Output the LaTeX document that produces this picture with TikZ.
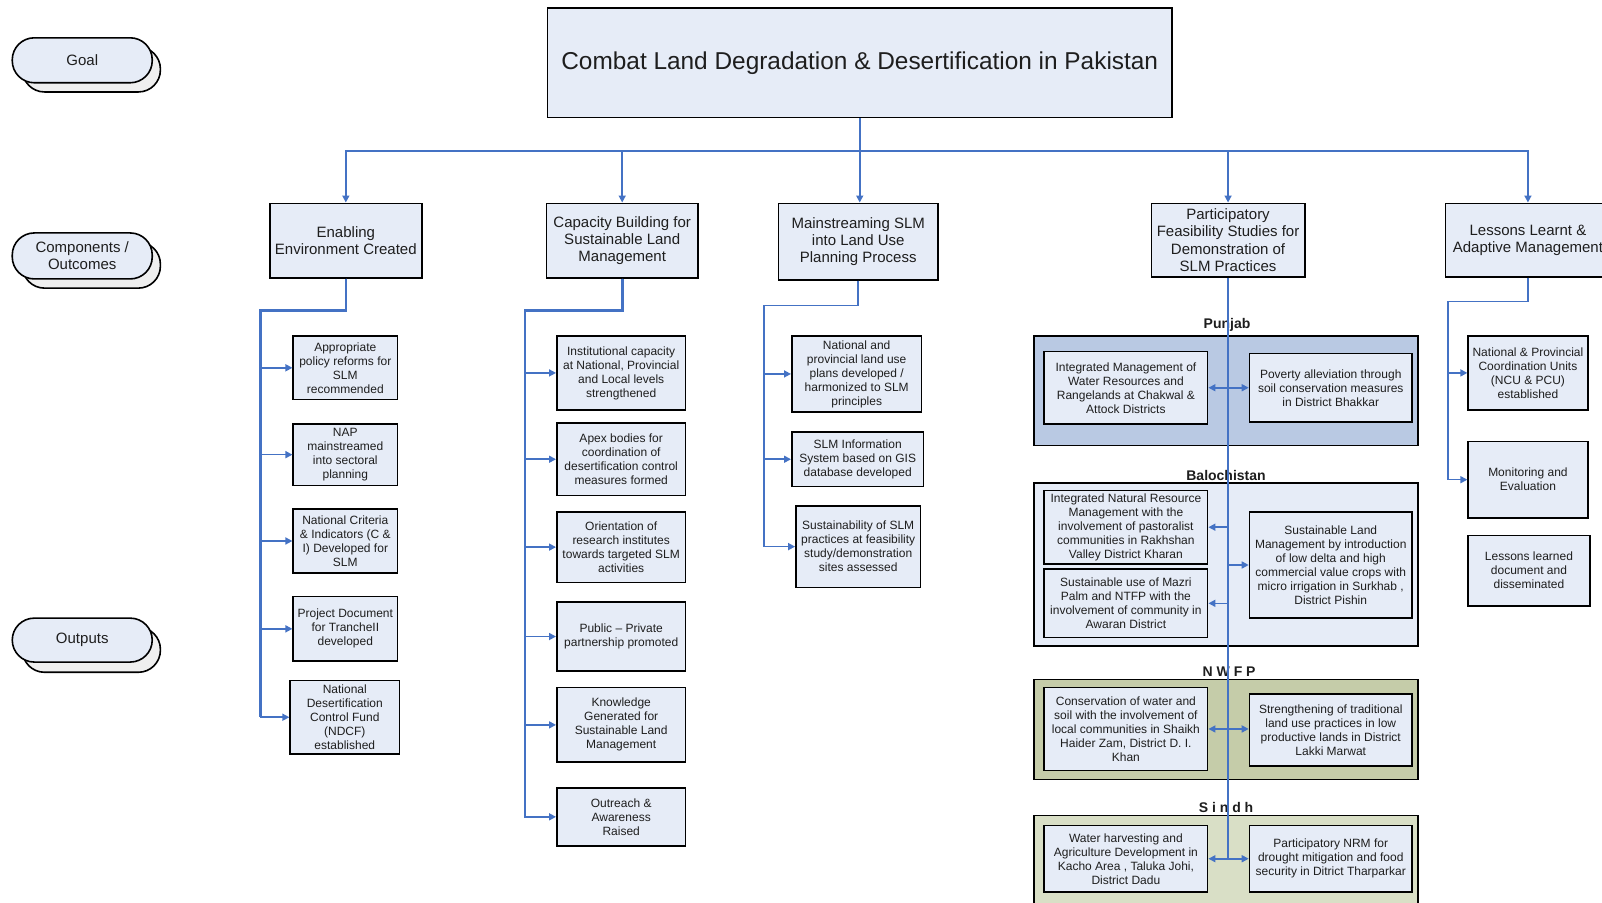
\documentclass[tikz,border=0pt]{standalone}
\usepackage{fontspec}
\setmainfont{Liberation Sans}
\usetikzlibrary{arrows.meta,calc}
\definecolor{boxfill}{HTML}{E6ECF7}
\definecolor{linkblue}{HTML}{4472C4}
\definecolor{punjabfill}{HTML}{B9C9E3}
\definecolor{nwfpfill}{HTML}{C5CCA9}
\definecolor{sindhfill}{HTML}{D9DFC6}
\definecolor{shadowfill}{HTML}{EFEFEF}
\definecolor{txt}{HTML}{1E1E1E}
\newcommand\bx[7][]{\node[box,minimum width={(#5-#3)*1.0217pt},minimum height={(#6-#4)*1.0217pt},#1] (#2) at ({(#3+#5)/2},{(#4+#6)/2}) {#7};}
\begin{document}
\begin{tikzpicture}[x=1.0217pt,y=-1.0217pt,
  box/.style={draw=black,line width=1.6pt,fill=boxfill,align=center,inner sep=0pt,text=txt,font=\fontsize{12}{14}\selectfont},
  comp/.style={font=\fontsize{15}{17.3}\selectfont},
  region/.style={draw=black,line width=1.6pt,inner sep=0pt},
  pill/.style={rounded corners=22pt,font=\fontsize{15}{17}\selectfont},
  pillshadow/.style={rounded corners=22pt,fill=shadowfill},
  conn/.style={draw=linkblue,line width=1.6pt},
  arr/.style={conn,-{Triangle[length=7pt,width=7pt]}},
  arrb/.style={conn,{Triangle[length=7pt,width=7pt]}-{Triangle[length=7pt,width=7pt]}},
  plabel/.style={font=\bfseries\fontsize{14}{16}\selectfont,text=txt}]
\useasboundingbox (0,0) rectangle (1568,882.9);

% legend pills
\bx[pillshadow]{goalsh}{22}{46}{157}{90}{}
\bx[pill]{goal}{12}{37}{149}{81}{Goal}
\bx[pillshadow]{compsh}{22}{237}{157}{282}{}
\bx[pill]{compl}{12}{228}{149}{273}{Components /\\Outcomes}
\bx[pillshadow]{outsh}{22}{614}{157}{658}{}
\bx[pill]{outl}{12}{605}{149}{648}{Outputs}

% goal
\bx[font=\fontsize{24.4}{28}\selectfont]{title}{536}{8}{1147}{115}{Combat Land Degradation \& Desertification in Pakistan}

% components
\bx[comp]{enab}{264}{199}{413}{272}{Enabling\\Environment Created}
\bx[comp]{cap}{535}{199}{683}{272}{Capacity Building for\\Sustainable Land\\Management}
\bx[comp]{mains}{762}{199}{918}{274}{Mainstreaming SLM\\into Land Use\\Planning Process}
\bx[comp]{part}{1127}{199}{1277}{271}{Participatory\\Feasibility Studies for\\Demonstration of\\SLM Practices}
\bx[comp]{less}{1415}{199}{1576}{271}{Lessons Learnt \&\\Adaptive Management}

% enabling outputs
\bx{e1}{287}{329}{389}{391}{Appropriate\\policy reforms for\\SLM\\recommended}
\bx{e2}{287}{415}{389}{475}{NAP\\mainstreamed\\into sectoral\\planning}
\bx{e3}{287}{498}{389}{561}{National Criteria\\\& Indicators (C \&\\I) Developed for\\SLM}
\bx{e4}{287}{584}{389}{647}{Project Document\\for TrancheII\\developed}
\bx{e5}{284}{666}{391}{738}{National\\Desertification\\Control Fund\\(NDCF)\\established}

% capacity outputs
\bx{c1}{545}{329}{671}{401}{Institutional capacity\\at National, Provincial\\and Local levels\\strengthened}
\bx{c2}{545}{414}{671}{485}{Apex bodies for\\coordination of\\desertification control\\measures formed}
\bx{c3}{545}{501}{671}{570}{Orientation of\\research institutes\\towards targeted SLM\\activities}
\bx{c4}{545}{589}{671}{657}{Public -- Private\\partnership promoted}
\bx{c5}{545}{673}{671}{746}{Knowledge\\Generated for\\Sustainable Land\\Management}
\bx{c6}{545}{771}{671}{828}{Outreach \&\\Awareness\\Raised}

% mainstreaming outputs
\bx{m1}{775}{329}{902}{403}{National and\\provincial land use\\plans developed /\\harmonized to SLM\\principles}
\bx{m2}{775}{423}{904}{476}{SLM Information\\System based on GIS\\database developed}
\bx{m3}{779}{495}{901}{575}{Sustainability of SLM\\practices at feasibility\\study/demonstration\\sites assessed}

% lessons outputs
\bx{l1}{1437}{329}{1554}{401}{National \& Provincial\\Coordination Units\\(NCU \& PCU)\\established}
\bx{l2}{1437}{432}{1554}{507}{Monitoring and\\Evaluation}
\bx{l3}{1437}{524}{1556}{593}{Lessons learned\\document and\\disseminated}

% provinces
\bx[region,fill=punjabfill]{rpunjab}{1012}{329}{1388}{436}{}
\node[plabel] (lpunjab) at (1201,318) {Punjab};
\bx{p1}{1022}{344}{1182}{415}{Integrated Management of\\Water Resources and\\Rangelands at Chakwal \&\\Attock Districts}
\bx{p2}{1223}{346}{1382}{413}{Poverty alleviation through\\soil conservation measures\\in District Bhakkar}

\bx[region,fill=boxfill]{rbaloch}{1012}{473}{1388}{632}{}
\node[plabel] (lbaloch) at (1200,465) {Balochistan};
\bx{b1}{1022}{480}{1182}{552}{Integrated Natural Resource\\Management with the\\involvement of pastoralist\\communities in Rakhshan\\Valley District Kharan}
\bx{b2}{1022}{557}{1182}{624}{Sustainable use of Mazri\\Palm and NTFP with the\\involvement of community in\\Awaran District}
\bx{b3}{1223}{501}{1382}{605}{Sustainable Land\\Management by introduction\\of low delta and high\\commercial value crops with\\micro irrigation in Surkhab ,\\District Pishin}

\bx[region,fill=nwfpfill]{rnwfp}{1012}{665}{1388}{763}{}
\node[plabel] (lnwfp) at (1203,657) {N W F P};
\bx{n1}{1022}{673}{1182}{754}{Conservation of water and\\soil with the involvement of\\local communities in Shaikh\\Haider Zam, District D. I.\\Khan}
\bx{n2}{1223}{679}{1382}{750}{Strengthening of traditional\\land use practices in low\\productive lands in District\\Lakki Marwat}

\bx[region,fill=sindhfill]{rsindh}{1012}{798}{1388}{900}{}
\node[plabel] (lsindh) at (1200,790) {S i n d h};
\bx{s1}{1022}{808}{1182}{873}{Water harvesting and\\Agriculture Development in\\Kacho Area , Taluka Johi,\\District Dadu}
\bx{s2}{1223}{808}{1382}{873}{Participatory NRM for\\drought mitigation and food\\security in Ditrict Tharparkar}

% main bus
\draw[arr] (title.south) -- ++(0,32) -| (enab.north);
\draw[arr] (title.south) -- ++(0,32) -| (cap.north);
\draw[arr] (title.south) -- (title.south |- mains.north);
\draw[arr] (title.south) -- ++(0,32) -| (part.north);
\draw[arr] (title.south) -- ++(0,32) -| (less.north);

% trunks
\coordinate (et) at (255,304);
\coordinate (ct) at (514,304);
\coordinate (mt) at (748,299);
\coordinate (lt) at (1417,295);

\draw[conn,line width=2.6pt] (enab.south) |- (et) -- (et |- e5.west);
\foreach \n in {e1,e2,e3,e4,e5}{\draw[arr] (enab.south) |- (et) |- (\n.west);}
\draw[conn,line width=2.6pt] (cap.south) |- (ct) -- (ct |- c4.west);
\foreach \n in {c1,c2,c3,c4,c5,c6}{\draw[arr] (cap.south) |- (ct) |- (\n.west);}
\foreach \n in {m1,m2,m3}{\draw[arr] (mains.south) |- (mt) |- (\n.west);}
\foreach \n in {l1,l2}{\draw[arr] (less.south) |- (lt) |- (\n.west);}

% participatory spine
\draw[conn] (part.south) -- (part.south |- s1.east);
\draw[arrb] (p1.east) -- (p2.west);
\draw[arr] (part.south |- b1.east) -- (b1.east);
\draw[arr] (part.south |- b2.east) -- (b2.east);
\draw[arr] (part.south |- b3.west) -- (b3.west);
\draw[arrb] (n1.east) -- (n1.east -| n2.west);
\draw[arrb] (s1.east) -- (s2.west);
\end{tikzpicture}
\end{document}
